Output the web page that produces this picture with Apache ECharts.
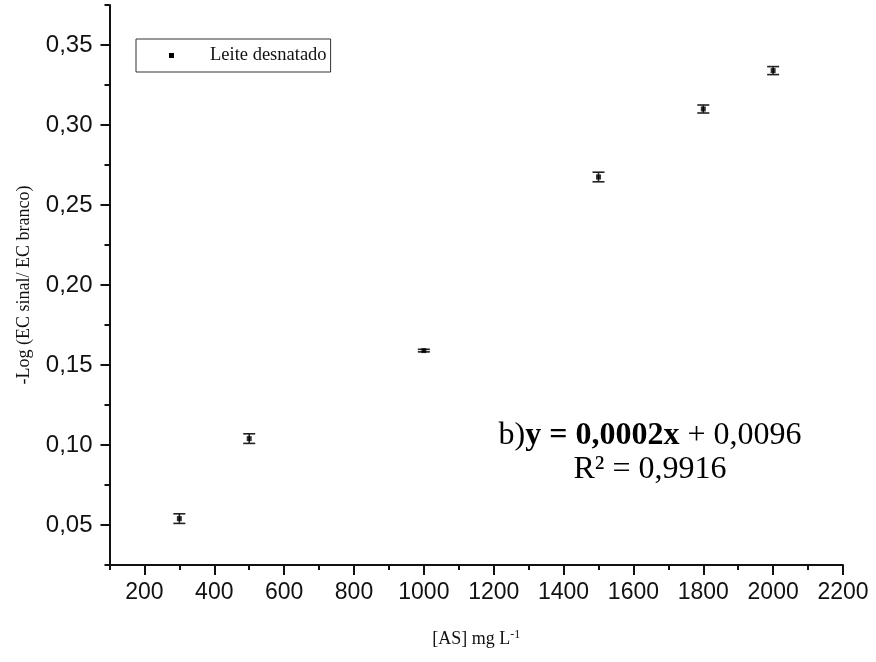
<!DOCTYPE html>
<html>
<head>
<meta charset="utf-8">
<title>Leite desnatado</title>
<script src="https://cdn.jsdelivr.net/npm/echarts@6/dist/echarts.min.js"></script>
<style>
  html, body { margin: 0; padding: 0; background: #fff; }
  #chart { width: 876px; height: 662px; }
</style>
</head>
<body>
<div id="chart"></div>
<script>
// Concentration of AS (mg L-1)
const concentrations = [300, 500, 1000, 1500, 1800, 2000];
// -Log(EC sinal / EC branco) means
const logRatios = [0.054, 0.104, 0.159, 0.2675, 0.310, 0.334];
// standard deviations (error bar half-length)
const stdDevs = [0.003, 0.003, 0.0008, 0.003, 0.0025, 0.0025];

// axis ticks
const xMajorTicks = [200, 400, 600, 800, 1000, 1200, 1400, 1600, 1800, 2000, 2200];
const xMinorTicks = [100, 300, 500, 700, 900, 1100, 1300, 1500, 1700, 1900, 2100];
const yMajorTicks = [0.05, 0.10, 0.15, 0.20, 0.25, 0.30, 0.35];
const yMinorTicks = [0.025, 0.075, 0.125, 0.175, 0.225, 0.275, 0.325, 0.375];

const seriesName = 'Leite desnatado';
const ink = '#111';

const points = concentrations.map((c, i) => [c, logRatios[i]]);
const bars = concentrations.map((c, i) => [c, logRatios[i], stdDevs[i]]);

const chart = echarts.init(document.getElementById('chart'), null, { renderer: 'canvas' });

const xRange = { min: 100, max: 2200 };
const yRange = { min: 0.025, max: 0.375 };

chart.setOption({
  animation: false,
  backgroundColor: '#fff',
  color: ['#000'],
  grid: { left: 109.5, right: 33, top: 5, bottom: 97 },
  legend: {
    left: 136,
    top: 39,
    orient: 'vertical',
    data: [{ name: seriesName, itemStyle: { color: '#000' } }],
    icon: 'rect',
    itemWidth: 5,
    itemHeight: 5,
    borderColor: '#333',
    borderWidth: 1,
    borderRadius: 0,
    padding: [7, 4, 7, 33],
    textStyle: {
      fontFamily: 'Liberation Serif',
      fontSize: 18.5,
      color: ink,
      padding: [0, 0, 0, 31]
    }
  },
  xAxis: [
    {
      type: 'value',
      position: 'bottom',
      min: xRange.min,
      max: xRange.max,
      splitLine: { show: false },
      axisLine: { show: true, onZero: false, lineStyle: { color: ink, width: 2 } },
      axisTick: { show: true, customValues: xMajorTicks, length: 10, lineStyle: { color: ink, width: 2 } },
      axisLabel: {
        customValues: xMajorTicks,
        margin: 16,
        fontFamily: 'Liberation Sans',
        fontSize: 23,
        color: ink,
        formatter: v => String(v)
      },
      name: '[AS] mg L{sup|-1}',
      nameLocation: 'middle',
      nameGap: 64,
      nameTextStyle: {
        fontFamily: 'Liberation Serif',
        fontSize: 18,
        color: ink,
        rich: {
          sup: { fontFamily: 'Liberation Serif', fontSize: 12, color: ink, verticalAlign: 'top', padding: [0, 0, 9, 0] }
        }
      }
    },
    {
      type: 'value',
      position: 'bottom',
      min: xRange.min,
      max: xRange.max,
      splitLine: { show: false },
      axisLine: { show: false },
      axisTick: { show: true, customValues: xMinorTicks, length: 5, lineStyle: { color: ink, width: 2 } },
      axisLabel: { show: false }
    }
  ],
  yAxis: [
    {
      type: 'value',
      position: 'left',
      min: yRange.min,
      max: yRange.max,
      splitLine: { show: false },
      axisLine: { show: true, onZero: false, lineStyle: { color: ink, width: 2 } },
      axisTick: { show: true, customValues: yMajorTicks, length: 9, lineStyle: { color: ink, width: 2 } },
      axisLabel: {
        customValues: yMajorTicks,
        margin: 17,
        fontFamily: 'Liberation Sans',
        fontSize: 24,
        color: ink,
        formatter: v => v.toFixed(2).replace('.', ',')
      },
      name: '-Log (EC sinal/ EC branco)',
      nameLocation: 'middle',
      nameRotate: 90,
      nameGap: 76,
      nameTextStyle: { fontFamily: 'Liberation Serif', fontSize: 18, color: ink }
    },
    {
      type: 'value',
      position: 'left',
      min: yRange.min,
      max: yRange.max,
      splitLine: { show: false },
      axisLine: { show: false },
      axisTick: { show: true, customValues: yMinorTicks, length: 5, lineStyle: { color: ink, width: 2 } },
      axisLabel: { show: false }
    }
  ],
  series: [
    {
      name: seriesName,
      type: 'custom',
      xAxisIndex: 0,
      yAxisIndex: 0,
      data: bars,
      z: 2,
      silent: true,
      itemStyle: { color: '#000' },
      renderItem: function (params, api) {
        const x = api.value(0);
        const y = api.value(1);
        const e = api.value(2);
        const hi = api.coord([x, y + e]);
        const lo = api.coord([x, y - e]);
        const cap = 6;
        const style = { stroke: '#222', lineWidth: 1.6 };
        return {
          type: 'group',
          children: [
            { type: 'line', shape: { x1: hi[0], y1: hi[1], x2: lo[0], y2: lo[1] }, style: style },
            { type: 'line', shape: { x1: hi[0] - cap, y1: hi[1], x2: hi[0] + cap, y2: hi[1] }, style: style },
            { type: 'line', shape: { x1: lo[0] - cap, y1: lo[1], x2: lo[0] + cap, y2: lo[1] }, style: style }
          ]
        };
      }
    },
    {
      name: seriesName,
      type: 'scatter',
      xAxisIndex: 0,
      yAxisIndex: 0,
      data: points,
      symbol: 'rect',
      symbolSize: 5,
      z: 3,
      itemStyle: { color: '#000' }
    }
  ],
  graphic: [
    {
      type: 'text',
      x: 650,
      y: 436,
      style: {
        text: '{n|b)}{b|y = 0,0002x}{n| + 0,0096}',
        align: 'center',
        verticalAlign: 'middle',
        rich: {
          n: { fontFamily: 'Liberation Serif', fontSize: 32, fill: '#000' },
          b: { fontFamily: 'Liberation Serif', fontSize: 32, fontWeight: 'bold', fill: '#000' }
        }
      }
    },
    {
      type: 'text',
      x: 650,
      y: 470,
      style: {
        text: 'R² = 0,9916',
        align: 'center',
        verticalAlign: 'middle',
        fontFamily: 'Liberation Serif',
        fontSize: 32,
        fill: '#000'
      }
    }
  ]
});
</script>
</body>
</html>
